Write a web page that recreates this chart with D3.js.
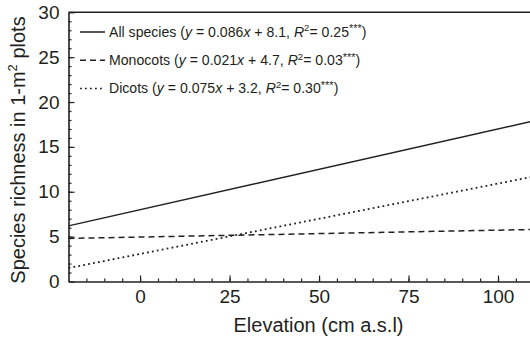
<!DOCTYPE html>
<html>
<head>
<meta charset="utf-8">
<script src="https://cdn.jsdelivr.net/npm/d3@7"></script>
<style>
  body { margin: 0; background: #fff; }
  svg { display: block; font-family: "Liberation Sans", Arial, sans-serif; }
</style>
</head>
<body>
<div id="plot"></div>
<script>
// fitted lines at the two ends of the x range
const xEnds = [-20, 110]
const allSpecies = [6.2, 17.9]
const monocots = [4.8, 5.8]
const dicots = [1.5, 11.7]

const seriesNames = ['All species', 'Monocots', 'Dicots']
const equations = [
  ['0.086', '8.1', '0.25'],
  ['0.021', '4.7', '0.03'],
  ['0.075', '3.2', '0.30']
]
const xTicks = [0, 25, 50, 75, 100]
const yTicks = [0, 5, 10, 15, 20, 25, 30]

const width = 530, height = 341
const ink = '#231f20'
const dashes = ['none', '6,4', '1.8,3.2']

const svg = d3.select('#plot').append('svg')
  .attr('width', width)
  .attr('height', height)

const x = d3.scaleLinear().domain([-20, 110]).range([68.5, 533.8])
const y = d3.scaleLinear().domain([0, 30]).range([281.5, 12.3])

// minor ticks first
svg.append('g')
  .attr('transform', 'translate(0,' + y(0) + ')')
  .call(d3.axisBottom(x).tickValues(d3.range(-15, 111, 5)).tickSizeInner(-3).tickSizeOuter(0).tickFormat(''))
  .call(g => g.select('.domain').remove())
svg.append('g')
  .attr('transform', 'translate(' + x(-20) + ',0)')
  .call(d3.axisLeft(y).tickValues(d3.range(1, 30, 1)).tickSizeInner(-3).tickSizeOuter(0).tickFormat(''))
  .call(g => g.select('.domain').remove())

// major axes
svg.append('g')
  .attr('transform', 'translate(0,' + y(0) + ')')
  .call(d3.axisBottom(x).tickValues(xTicks).tickSizeInner(-6).tickSizeOuter(0).tickPadding(8))
svg.append('g')
  .attr('transform', 'translate(' + x(-20) + ',0)')
  .call(d3.axisLeft(y).tickValues(yTicks).tickSizeInner(-6).tickSizeOuter(0).tickPadding(9))

svg.selectAll('.tick line').attr('stroke', ink).attr('stroke-width', 1.2)
svg.selectAll('.domain').attr('stroke', ink).attr('stroke-width', 1.6)
svg.selectAll('.tick text')
  .attr('fill', ink)
  .style('font-size', '19px')
  .style('font-family', '"Liberation Sans", Arial, sans-serif')

// top frame line
svg.append('line')
  .attr('x1', x(-20)).attr('x2', width)
  .attr('y1', y(30)).attr('y2', y(30))
  .attr('stroke', ink).attr('stroke-width', 1.6)

// regression lines
const line = d3.line().x(d => x(d[0])).y(d => y(d[1]))
const series = [allSpecies, monocots, dicots]
series.forEach((vals, i) => {
  svg.append('path')
    .datum(xEnds.map((xv, j) => [xv, vals[j]]))
    .attr('d', line)
    .attr('fill', 'none')
    .attr('stroke', ink)
    .attr('stroke-width', i == 2 ? 1.8 : 1.5)
    .attr('stroke-dasharray', dashes[i])
})

// legend
const legend = svg.append('g')
seriesNames.forEach((name, i) => {
  const ly = 32 + i * 28.3
  legend.append('line')
    .attr('x1', 80).attr('x2', 105)
    .attr('y1', ly).attr('y2', ly)
    .attr('stroke', ink).attr('stroke-width', 1.5)
    .attr('stroke-dasharray', dashes[i])
  const t = legend.append('text')
    .attr('x', 109).attr('y', ly + 4.7)
    .attr('fill', ink)
    .style('font-size', '14.1px')
  const eq = equations[i]
  t.append('tspan').text(name + ' (')
  t.append('tspan').style('font-style', 'italic').text('y')
  t.append('tspan').text(' = ' + eq[0])
  t.append('tspan').style('font-style', 'italic').text('x')
  t.append('tspan').text(' + ' + eq[1] + ', ')
  t.append('tspan').style('font-style', 'italic').text('R')
  t.append('tspan').attr('dy', -5.5).style('font-size', '9.5px').text('2')
  t.append('tspan').attr('dy', 5.5).text('= ' + eq[2])
  t.append('tspan').attr('dy', -4.5).style('font-size', '11px').text('***')
  t.append('tspan').attr('dy', 4.5).text(')')
})

// axis titles
svg.append('text')
  .attr('x', 318.5).attr('y', 332)
  .attr('text-anchor', 'middle')
  .attr('fill', ink)
  .style('font-size', '20px')
  .text('Elevation (cm a.s.l)')

const yt = svg.append('text')
  .attr('transform', 'translate(25,150) rotate(-90)')
  .attr('text-anchor', 'middle')
  .attr('fill', ink)
  .style('font-size', '20px')
yt.append('tspan').text('Species richness in 1-m')
yt.append('tspan').attr('dy', -8).style('font-size', '13px').text('2')
yt.append('tspan').attr('dy', 8).text(' plots')
</script>
</body>
</html>
